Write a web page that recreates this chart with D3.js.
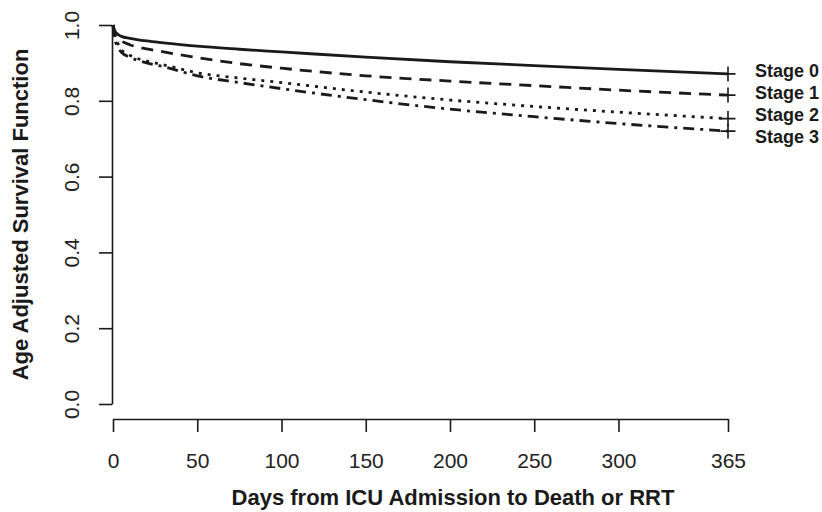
<!DOCTYPE html>
<html>
<head>
<meta charset="utf-8">
<script src="https://cdn.jsdelivr.net/npm/d3@7"></script>
<style>
  body { margin: 0; background: #fff; }
  svg { display: block; font-family: "Liberation Sans", Arial, sans-serif; }
</style>
</head>
<body>
<svg width="822" height="512"></svg>
<script>
// days since ICU admission and age adjusted survival per stage
var days   = [0, 1, 3, 5, 10, 20, 30, 50, 75, 100, 150, 200, 250, 300, 365]
var stage0 = [1.0, 0.985, 0.975, 0.970, 0.965, 0.958, 0.953, 0.944, 0.936, 0.929, 0.915, 0.903, 0.893, 0.883, 0.871]
var stage1 = [1.0, 0.980, 0.965, 0.958, 0.948, 0.937, 0.929, 0.914, 0.898, 0.886, 0.866, 0.852, 0.840, 0.828, 0.815]
var stage2 = [1.0, 0.970, 0.950, 0.935, 0.920, 0.905, 0.895, 0.874, 0.860, 0.848, 0.823, 0.802, 0.785, 0.770, 0.753]
var stage3 = [1.0, 0.965, 0.940, 0.928, 0.915, 0.900, 0.890, 0.866, 0.848, 0.832, 0.803, 0.778, 0.758, 0.740, 0.720]

var stageNames = ["Stage 0", "Stage 1", "Stage 2", "Stage 3"]
var xTicks = [0, 50, 100, 150, 200, 250, 300, 365]
var yTicks = [0, 0.2, 0.4, 0.6, 0.8, 1.0]

var series = [stage0, stage1, stage2, stage3]
var dashes = [null, "12,8", "3,6", "11,6,3,6"]

var svg = d3.select("svg")

var x = d3.scaleLinear().domain([0, 365]).range([113, 728])
var y = d3.scaleLinear().domain([0, 1]).range([404, 25])

var ink = "#1a1a1a"

// x axis, R style (detached from the y axis)
var xAxis = svg.append("g")
  .attr("transform", "translate(0,419)")
  .call(d3.axisBottom(x).tickValues(xTicks).tickSize(13).tickSizeOuter(0).tickFormat(d3.format("d")))
xAxis.selectAll("text")
  .attr("y", 49).attr("dy", 0)
  .attr("font-size", 21).attr("fill", "#222")
  .style("font-family", "Liberation Sans, Arial, sans-serif")

// y axis with rotated labels
var yAxis = svg.append("g")
  .attr("transform", "translate(112,0)")
  .call(d3.axisLeft(y).tickValues(yTicks).tickSize(13).tickSizeOuter(0).tickFormat(d3.format(".1f")))
yAxis.selectAll("text")
  .attr("x", 0).attr("dy", 0)
  .attr("transform", "translate(-33,0) rotate(-90)")
  .attr("text-anchor", "middle")
  .attr("font-size", 21).attr("fill", "#222")
  .style("font-family", "Liberation Sans, Arial, sans-serif")

svg.selectAll(".domain, .tick line").attr("stroke", ink).attr("stroke-width", 1.6)

// axis titles
svg.append("text")
  .attr("x", 453).attr("y", 505)
  .attr("text-anchor", "middle")
  .attr("font-size", 22).attr("font-weight", "bold").attr("fill", ink)
  .text("Days from ICU Admission to Death or RRT")

svg.append("text")
  .attr("transform", "translate(28," + y(0.5) + ") rotate(-90)")
  .attr("text-anchor", "middle")
  .attr("font-size", 22).attr("font-weight", "bold").attr("fill", ink)
  .text("Age Adjusted Survival Function")

// survival curves
var line = d3.line()
  .x(function (d, i) { return x(days[i]) })
  .y(function (d) { return y(d) })
  .curve(d3.curveMonotoneX)

svg.append("g").selectAll("path")
  .data(series)
  .enter().append("path")
    .attr("d", line)
    .attr("fill", "none")
    .attr("stroke", ink)
    .attr("stroke-width", 2.8)
    .attr("stroke-dasharray", function (d, i) { return dashes[i] })

// censor marks at the last day
var last = days.length - 1
svg.append("g").selectAll("path")
  .data(series)
  .enter().append("path")
    .attr("d", function (d) {
      var cx = x(days[last]), cy = y(d[last]), h = 7.5
      return "M" + (cx - h) + "," + cy + "H" + (cx + h) + "M" + cx + "," + (cy - h) + "V" + (cy + h)
    })
    .attr("stroke", ink)
    .attr("stroke-width", 1.6)

// stage labels stacked next to the end of the curves
var labelTop = y(stage0[last]) - 3
svg.append("g").selectAll("text")
  .data(stageNames)
  .enter().append("text")
    .attr("x", 755)
    .attr("y", function (d, i) { return labelTop + i * 22 + 6 })
    .attr("font-size", 18).attr("font-weight", "bold").attr("fill", ink)
    .text(function (d) { return d })
</script>
</body>
</html>
